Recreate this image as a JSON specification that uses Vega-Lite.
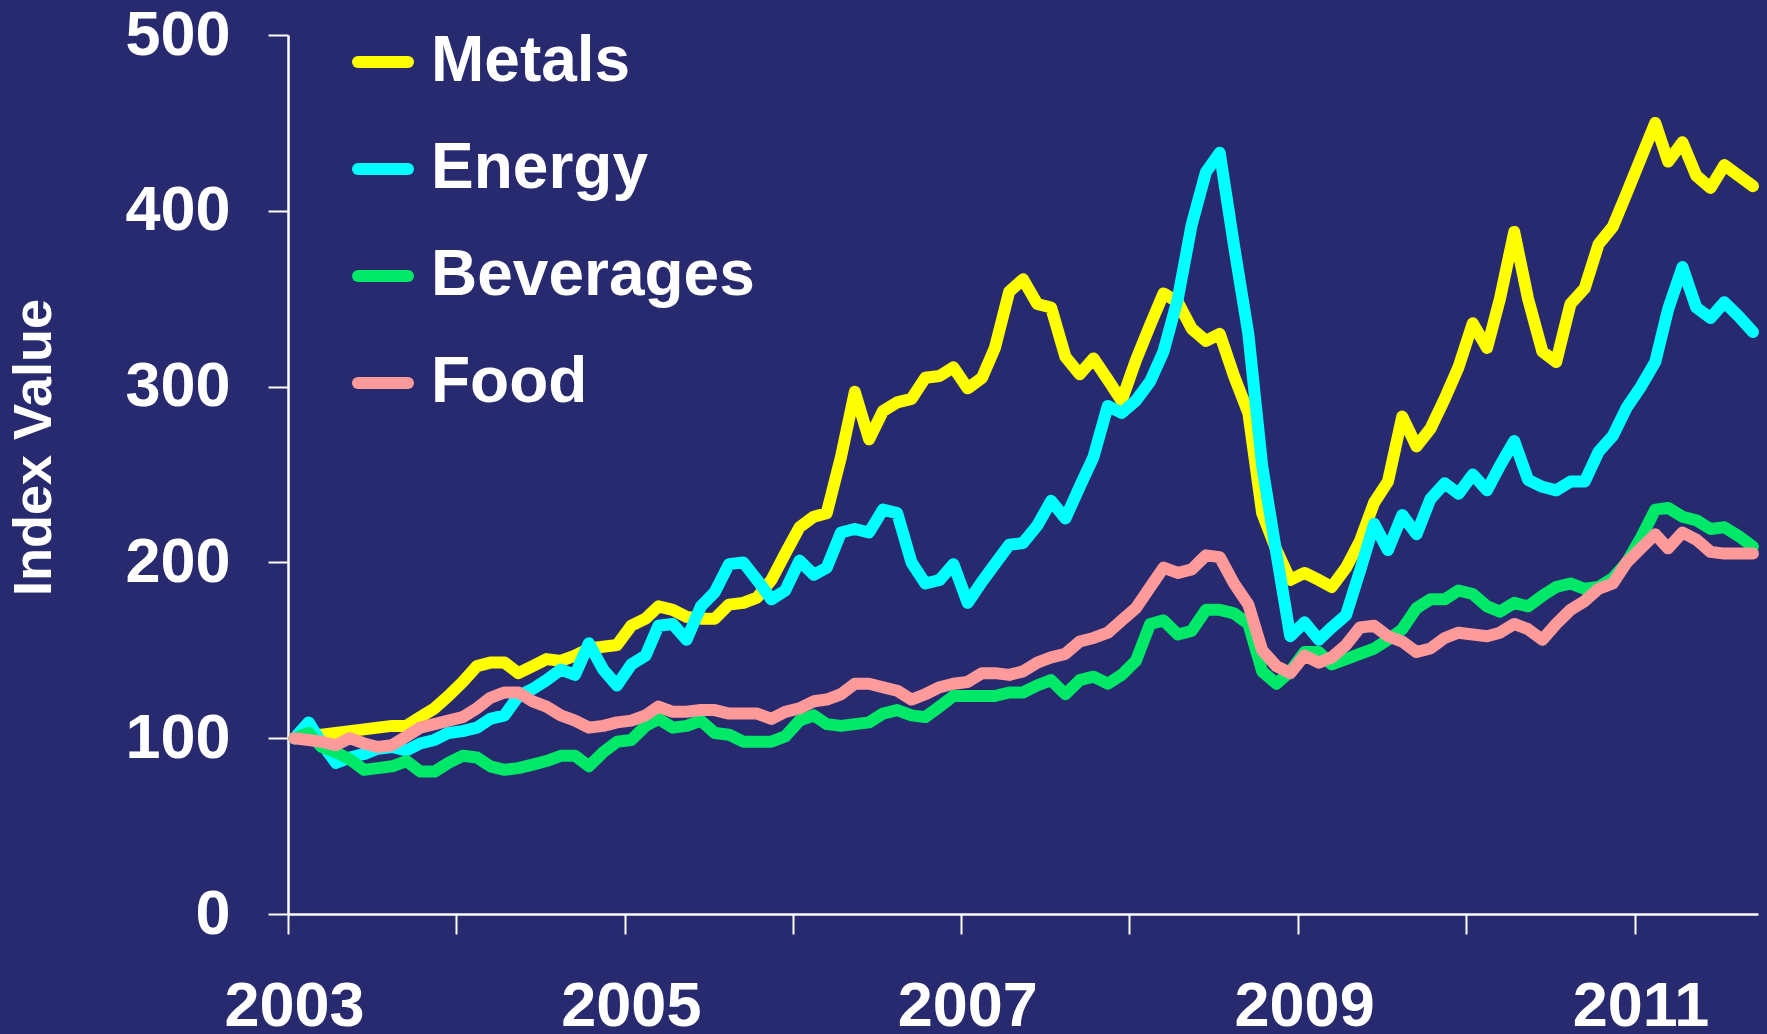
{
  "$schema": "https://vega.github.io/schema/vega-lite/v6.json",
  "width": 1470,
  "height": 879,
  "autosize": "none",
  "padding": {"left": 288, "top": 35, "right": 9, "bottom": 120},
  "background": "#272a6e",
  "config": {
    "view": {"stroke": null},
    "font": "Liberation Sans",
    "axis": {
      "domainColor": "white",
      "domainWidth": 2.5,
      "tickColor": "white",
      "tickWidth": 2,
      "tickSize": 20,
      "labelColor": "white",
      "labelFont": "Liberation Sans",
      "labelFontWeight": "bold",
      "labelFontSize": 63,
      "labelFlush": false,
      "labelOverlap": false,
      "labelBound": false,
      "grid": false
    }
  },
  "data": {
    "values": [
      {"date": "2003-01-15", "Metals": 100, "Energy": 100, "Beverages": 100, "Food": 100},
      {"date": "2003-02-15", "Metals": 101, "Energy": 109, "Beverages": 103, "Food": 99},
      {"date": "2003-03-15", "Metals": 102, "Energy": 97, "Beverages": 95, "Food": 98},
      {"date": "2003-04-15", "Metals": 103, "Energy": 86, "Beverages": 92, "Food": 96},
      {"date": "2003-05-15", "Metals": 104, "Energy": 89, "Beverages": 88, "Food": 100},
      {"date": "2003-06-15", "Metals": 105, "Energy": 91, "Beverages": 82, "Food": 97},
      {"date": "2003-07-15", "Metals": 106, "Energy": 94, "Beverages": 83, "Food": 95},
      {"date": "2003-08-15", "Metals": 107, "Energy": 95, "Beverages": 84, "Food": 96},
      {"date": "2003-09-15", "Metals": 107, "Energy": 93, "Beverages": 87, "Food": 101},
      {"date": "2003-10-15", "Metals": 112, "Energy": 97, "Beverages": 81, "Food": 106},
      {"date": "2003-11-15", "Metals": 117, "Energy": 99, "Beverages": 81, "Food": 108},
      {"date": "2003-12-15", "Metals": 124, "Energy": 103, "Beverages": 86, "Food": 110},
      {"date": "2004-01-15", "Metals": 132, "Energy": 104, "Beverages": 90, "Food": 112},
      {"date": "2004-02-15", "Metals": 141, "Energy": 106, "Beverages": 89, "Food": 117},
      {"date": "2004-03-15", "Metals": 143, "Energy": 111, "Beverages": 84, "Food": 123},
      {"date": "2004-04-15", "Metals": 143, "Energy": 113, "Beverages": 82, "Food": 126},
      {"date": "2004-05-15", "Metals": 137, "Energy": 124, "Beverages": 83, "Food": 126},
      {"date": "2004-06-15", "Metals": 141, "Energy": 128, "Beverages": 85, "Food": 121},
      {"date": "2004-07-15", "Metals": 145, "Energy": 133, "Beverages": 87, "Food": 118},
      {"date": "2004-08-15", "Metals": 144, "Energy": 139, "Beverages": 90, "Food": 113},
      {"date": "2004-09-15", "Metals": 147, "Energy": 136, "Beverages": 90, "Food": 110},
      {"date": "2004-10-15", "Metals": 151, "Energy": 154, "Beverages": 84, "Food": 106},
      {"date": "2004-11-15", "Metals": 152, "Energy": 139, "Beverages": 92, "Food": 107},
      {"date": "2004-12-15", "Metals": 153, "Energy": 130, "Beverages": 98, "Food": 109},
      {"date": "2005-01-15", "Metals": 164, "Energy": 142, "Beverages": 99, "Food": 110},
      {"date": "2005-02-15", "Metals": 168, "Energy": 147, "Beverages": 107, "Food": 113},
      {"date": "2005-03-15", "Metals": 175, "Energy": 164, "Beverages": 111, "Food": 118},
      {"date": "2005-04-15", "Metals": 173, "Energy": 165, "Beverages": 106, "Food": 115},
      {"date": "2005-05-15", "Metals": 169, "Energy": 156, "Beverages": 107, "Food": 115},
      {"date": "2005-06-15", "Metals": 168, "Energy": 175, "Beverages": 110, "Food": 116},
      {"date": "2005-07-15", "Metals": 168, "Energy": 183, "Beverages": 103, "Food": 116},
      {"date": "2005-08-15", "Metals": 176, "Energy": 199, "Beverages": 102, "Food": 114},
      {"date": "2005-09-15", "Metals": 177, "Energy": 200, "Beverages": 98, "Food": 114},
      {"date": "2005-10-15", "Metals": 180, "Energy": 190, "Beverages": 98, "Food": 114},
      {"date": "2005-11-15", "Metals": 190, "Energy": 179, "Beverages": 98, "Food": 111},
      {"date": "2005-12-15", "Metals": 205, "Energy": 184, "Beverages": 101, "Food": 115},
      {"date": "2006-01-15", "Metals": 220, "Energy": 201, "Beverages": 110, "Food": 117},
      {"date": "2006-02-15", "Metals": 226, "Energy": 193, "Beverages": 113, "Food": 121},
      {"date": "2006-03-15", "Metals": 228, "Energy": 197, "Beverages": 108, "Food": 122},
      {"date": "2006-04-15", "Metals": 260, "Energy": 217, "Beverages": 107, "Food": 125},
      {"date": "2006-05-15", "Metals": 297, "Energy": 219, "Beverages": 108, "Food": 131},
      {"date": "2006-06-15", "Metals": 270, "Energy": 217, "Beverages": 109, "Food": 131},
      {"date": "2006-07-15", "Metals": 286, "Energy": 230, "Beverages": 114, "Food": 129},
      {"date": "2006-08-15", "Metals": 291, "Energy": 228, "Beverages": 116, "Food": 127},
      {"date": "2006-09-15", "Metals": 293, "Energy": 200, "Beverages": 113, "Food": 122},
      {"date": "2006-10-15", "Metals": 305, "Energy": 188, "Beverages": 112, "Food": 125},
      {"date": "2006-11-15", "Metals": 306, "Energy": 190, "Beverages": 118, "Food": 129},
      {"date": "2006-12-15", "Metals": 311, "Energy": 199, "Beverages": 124, "Food": 131},
      {"date": "2007-01-15", "Metals": 299, "Energy": 177, "Beverages": 124, "Food": 132},
      {"date": "2007-02-15", "Metals": 305, "Energy": 189, "Beverages": 124, "Food": 137},
      {"date": "2007-03-15", "Metals": 322, "Energy": 199, "Beverages": 124, "Food": 137},
      {"date": "2007-04-15", "Metals": 354, "Energy": 210, "Beverages": 126, "Food": 136},
      {"date": "2007-05-15", "Metals": 361, "Energy": 211, "Beverages": 126, "Food": 138},
      {"date": "2007-06-15", "Metals": 347, "Energy": 221, "Beverages": 130, "Food": 143},
      {"date": "2007-07-15", "Metals": 345, "Energy": 235, "Beverages": 133, "Food": 146},
      {"date": "2007-08-15", "Metals": 317, "Energy": 225, "Beverages": 125, "Food": 148},
      {"date": "2007-09-15", "Metals": 307, "Energy": 243, "Beverages": 133, "Food": 155},
      {"date": "2007-10-15", "Metals": 316, "Energy": 260, "Beverages": 135, "Food": 157},
      {"date": "2007-11-15", "Metals": 304, "Energy": 289, "Beverages": 131, "Food": 160},
      {"date": "2007-12-15", "Metals": 292, "Energy": 285, "Beverages": 136, "Food": 167},
      {"date": "2008-01-15", "Metals": 315, "Energy": 292, "Beverages": 144, "Food": 174},
      {"date": "2008-02-15", "Metals": 335, "Energy": 303, "Beverages": 165, "Food": 186},
      {"date": "2008-03-15", "Metals": 353, "Energy": 320, "Beverages": 167, "Food": 197},
      {"date": "2008-04-15", "Metals": 348, "Energy": 350, "Beverages": 159, "Food": 194},
      {"date": "2008-05-15", "Metals": 333, "Energy": 392, "Beverages": 161, "Food": 196},
      {"date": "2008-06-15", "Metals": 326, "Energy": 422, "Beverages": 173, "Food": 204},
      {"date": "2008-07-15", "Metals": 330, "Energy": 433, "Beverages": 173, "Food": 203},
      {"date": "2008-08-15", "Metals": 306, "Energy": 380, "Beverages": 171, "Food": 188},
      {"date": "2008-09-15", "Metals": 285, "Energy": 330, "Beverages": 165, "Food": 176},
      {"date": "2008-10-15", "Metals": 228, "Energy": 255, "Beverages": 138, "Food": 150},
      {"date": "2008-11-15", "Metals": 207, "Energy": 205, "Beverages": 131, "Food": 141},
      {"date": "2008-12-15", "Metals": 190, "Energy": 158, "Beverages": 138, "Food": 137},
      {"date": "2009-01-15", "Metals": 194, "Energy": 166, "Beverages": 149, "Food": 147},
      {"date": "2009-02-15", "Metals": 190, "Energy": 156, "Beverages": 149, "Food": 143},
      {"date": "2009-03-15", "Metals": 186, "Energy": 163, "Beverages": 142, "Food": 146},
      {"date": "2009-04-15", "Metals": 197, "Energy": 170, "Beverages": 145, "Food": 153},
      {"date": "2009-05-15", "Metals": 212, "Energy": 195, "Beverages": 148, "Food": 163},
      {"date": "2009-06-15", "Metals": 234, "Energy": 222, "Beverages": 151, "Food": 164},
      {"date": "2009-07-15", "Metals": 246, "Energy": 207, "Beverages": 156, "Food": 158},
      {"date": "2009-08-15", "Metals": 283, "Energy": 227, "Beverages": 162, "Food": 155},
      {"date": "2009-09-15", "Metals": 266, "Energy": 216, "Beverages": 174, "Food": 149},
      {"date": "2009-10-15", "Metals": 276, "Energy": 236, "Beverages": 179, "Food": 151},
      {"date": "2009-11-15", "Metals": 293, "Energy": 245, "Beverages": 179, "Food": 157},
      {"date": "2009-12-15", "Metals": 311, "Energy": 239, "Beverages": 184, "Food": 160},
      {"date": "2010-01-15", "Metals": 336, "Energy": 250, "Beverages": 182, "Food": 159},
      {"date": "2010-02-15", "Metals": 322, "Energy": 241, "Beverages": 175, "Food": 158},
      {"date": "2010-03-15", "Metals": 350, "Energy": 255, "Beverages": 172, "Food": 160},
      {"date": "2010-04-15", "Metals": 388, "Energy": 269, "Beverages": 177, "Food": 165},
      {"date": "2010-05-15", "Metals": 350, "Energy": 247, "Beverages": 175, "Food": 162},
      {"date": "2010-06-15", "Metals": 320, "Energy": 243, "Beverages": 181, "Food": 156},
      {"date": "2010-07-15", "Metals": 314, "Energy": 241, "Beverages": 186, "Food": 165},
      {"date": "2010-08-15", "Metals": 347, "Energy": 246, "Beverages": 188, "Food": 173},
      {"date": "2010-09-15", "Metals": 356, "Energy": 246, "Beverages": 185, "Food": 178},
      {"date": "2010-10-15", "Metals": 381, "Energy": 263, "Beverages": 186, "Food": 185},
      {"date": "2010-11-15", "Metals": 391, "Energy": 272, "Beverages": 191, "Food": 188},
      {"date": "2010-12-15", "Metals": 410, "Energy": 288, "Beverages": 200, "Food": 200},
      {"date": "2011-01-15", "Metals": 430, "Energy": 300, "Beverages": 214, "Food": 208},
      {"date": "2011-02-15", "Metals": 450, "Energy": 314, "Beverages": 230, "Food": 216},
      {"date": "2011-03-15", "Metals": 428, "Energy": 344, "Beverages": 231, "Food": 208},
      {"date": "2011-04-15", "Metals": 439, "Energy": 368, "Beverages": 226, "Food": 217},
      {"date": "2011-05-15", "Metals": 420, "Energy": 345, "Beverages": 224, "Food": 213},
      {"date": "2011-06-15", "Metals": 413, "Energy": 339, "Beverages": 219, "Food": 206},
      {"date": "2011-07-15", "Metals": 426, "Energy": 348, "Beverages": 220, "Food": 205},
      {"date": "2011-08-15", "Metals": 420, "Energy": 340, "Beverages": 215, "Food": 205},
      {"date": "2011-09-15", "Metals": 414, "Energy": 331, "Beverages": 209, "Food": 205}
    ]
  },
  "transform": [
    {"fold": ["Metals", "Energy", "Beverages", "Food"], "as": ["series", "value"]}
  ],
  "encoding": {
    "x": {
      "field": "date",
      "type": "temporal",
      "scale": {
        "type": "utc",
        "domain": [
          {"year": 2003, "month": 1, "date": 1, "utc": true},
          {"year": 2011, "month": 9, "date": 26, "utc": true}
        ]
      },
      "axis": {
        "title": null,
        "values": [
          {"year": 2003, "month": 1, "date": 1, "utc": true},
          {"year": 2004, "month": 1, "date": 1, "utc": true},
          {"year": 2005, "month": 1, "date": 1, "utc": true},
          {"year": 2006, "month": 1, "date": 1, "utc": true},
          {"year": 2007, "month": 1, "date": 1, "utc": true},
          {"year": 2008, "month": 1, "date": 1, "utc": true},
          {"year": 2009, "month": 1, "date": 1, "utc": true},
          {"year": 2010, "month": 1, "date": 1, "utc": true},
          {"year": 2011, "month": 1, "date": 1, "utc": true}
        ],
        "labelExpr": "utcyear(datum.value) % 2 == 1 ? utcFormat(datum.value, '%Y') : ''",
        "labelPadding": 41,
        "labelOffset": 6,
        "labelAlign": "center"
      }
    },
    "y": {
      "field": "value",
      "type": "quantitative",
      "scale": {"domain": [0, 500], "nice": false, "zero": true},
      "axis": {
        "values": [0, 100, 200, 300, 400, 500],
        "labelPadding": 38,
        "title": "Index Value",
        "titleFont": "Liberation Sans",
        "titleFontSize": 54,
        "titleFontWeight": "bold",
        "titleColor": "white",
        "titleAngle": -90,
        "titleAlign": "center",
        "titleBaseline": "middle",
        "titleX": -254,
        "titleY": 412
      }
    },
    "color": {
      "field": "series",
      "type": "nominal",
      "scale": {
        "domain": ["Metals", "Energy", "Beverages", "Food"],
        "range": ["#ffff00", "#00ffff", "#00e868", "#ff9a9a"]
      },
      "legend": {
        "orient": "none",
        "legendX": 63,
        "legendY": -5,
        "padding": 0,
        "title": null,
        "symbolType": "stroke",
        "symbolSize": 2500,
        "symbolStrokeWidth": 12,
        "labelFont": "Liberation Sans",
        "labelFontSize": 64,
        "labelFontWeight": "bold",
        "labelColor": "white",
        "labelOffset": 16,
        "labelLimit": 800,
        "rowPadding": 43,
        "encode": {"symbols": {"update": {"strokeCap": {"value": "round"}}}}
      }
    }
  },
  "layer": [
    {
      "transform": [{"filter": "datum.series == 'Metals'"}],
      "mark": {"type": "line", "strokeWidth": 12, "strokeCap": "round", "strokeJoin": "round"}
    },
    {
      "transform": [{"filter": "datum.series == 'Energy'"}],
      "mark": {"type": "line", "strokeWidth": 12, "strokeCap": "round", "strokeJoin": "round"}
    },
    {
      "transform": [{"filter": "datum.series == 'Beverages'"}],
      "mark": {"type": "line", "strokeWidth": 12, "strokeCap": "round", "strokeJoin": "round"}
    },
    {
      "transform": [{"filter": "datum.series == 'Food'"}],
      "mark": {"type": "line", "strokeWidth": 12, "strokeCap": "round", "strokeJoin": "round"}
    }
  ]
}
